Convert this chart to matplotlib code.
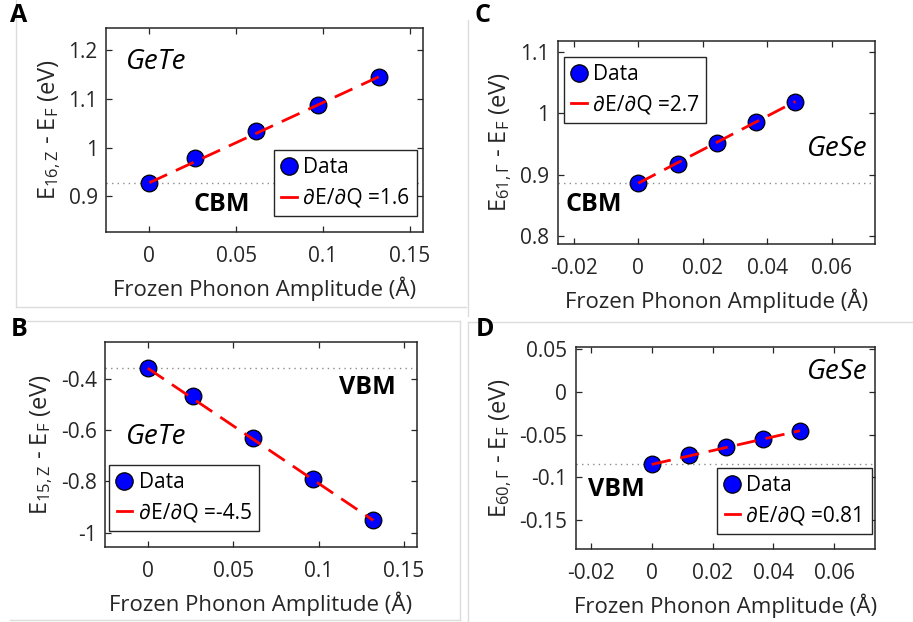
import matplotlib
matplotlib.use("Agg")
import matplotlib.pyplot as plt
from matplotlib.lines import Line2D

plt.rcParams["font.family"] = ["Open Sans", "DejaVu Sans"]
plt.rcParams["mathtext.default"] = "regular"

# GeTe (panels A, B)
gete_q = [0.0, 0.0265, 0.0615, 0.097, 0.132]
gete_cbm = [0.928, 0.978, 1.033, 1.087, 1.145]
gete_vbm = [-0.358, -0.466, -0.629, -0.792, -0.952]

# GeSe (panels C, D)
gese_q = [0.0, 0.0122, 0.0245, 0.0365, 0.0487]
gese_cbm = [0.886, 0.918, 0.951, 0.985, 1.019]
gese_vbm = [-0.0847, -0.0741, -0.0648, -0.0550, -0.0453]

slopes = {"A": 1.6, "B": -4.5, "C": 2.7, "D": 0.81}

W, H = 913, 622
fig = plt.figure(figsize=(W / 100, H / 100), dpi=100)

DARK = "#262626"


def px_axes(x0, y0, x1, y1):
    return fig.add_axes([x0 / W, (H - y1) / H, (x1 - x0) / W, (y1 - y0) / H])


def style(ax, xlim, ylim, xticks, yticks, xtl, ytl, ylabel):
    ax.set_xlim(*xlim)
    ax.set_ylim(*ylim)
    ax.set_xticks(xticks)
    ax.set_xticklabels(xtl)
    ax.set_yticks(yticks)
    ax.set_yticklabels(ytl)
    ax.tick_params(direction="in", top=True, right=True, length=4, width=0.9,
                   colors=DARK, labelsize=15)
    ax.tick_params(axis="x", pad=10)
    ax.tick_params(axis="y", pad=6)
    for s in ax.spines.values():
        s.set_color(DARK)
        s.set_linewidth(1.1)
    ax.set_xlabel("Frozen Phonon Amplitude (Å)", fontsize=16, color=DARK, labelpad=7)
    ax.set_ylabel(ylabel, fontsize=17, color=DARK, labelpad=4)


def draw(ax, q, e, slope, legend_kw):
    ax.axhline(e[0], color="#8c8c8c", linestyle=(0, (1, 3)), linewidth=1.0, zorder=1)
    ax.plot(q, e, "o", color="#0000ff", markeredgecolor="black", markeredgewidth=0.9,
            markersize=12, zorder=3)
    ax.plot([q[0], q[-1]], [e[0], e[-1]], color="#ff0000", linewidth=2.0,
            dashes=(7, 3.5), zorder=4)
    handles = [
        Line2D([], [], marker="o", linestyle="none", color="#0000ff",
               markeredgecolor="black", markersize=12.5, markeredgewidth=0.9),
        Line2D([], [], color="#ff0000", linewidth=2.0),
    ]
    labels = ["Data", f"∂E/∂Q ={slope:g}"]
    leg = ax.legend(handles, labels, fontsize=15, handlelength=0.75, handletextpad=0.3,
                    borderpad=0.35, labelspacing=0.45, borderaxespad=0, fancybox=False,
                    framealpha=1, edgecolor=DARK, **legend_kw)
    leg.get_frame().set_linewidth(1.0)


# Panel A
axA = px_axes(106, 28, 423, 232)
style(axA, (-0.025, 0.1575), (0.827, 1.245), [0, 0.05, 0.1, 0.15], [0.9, 1.0, 1.1, 1.2],
      ["0", "0.05", "0.1", "0.15"], ["0.9", "1", "1.1", "1.2"], r"E$_{16,Z}$ - E$_F$ (eV)")
draw(axA, gete_q, gete_cbm, slopes["A"],
     dict(loc="lower right", bbox_to_anchor=(0.98, 0.078)))
axA.text(0.063, 0.835, "GeTe", transform=axA.transAxes, fontsize=20, style="italic",
         va="center", ha="left")
axA.text(0.275, 0.136, "CBM", transform=axA.transAxes, fontsize=18, weight="bold",
         va="center", ha="left")

# Panel B
axB = px_axes(105, 342.3, 416.7, 546.7)
style(axB, (-0.025, 0.1574), (-1.055, -0.257), [0, 0.05, 0.1, 0.15],
      [-1.0, -0.8, -0.6, -0.4], ["0", "0.05", "0.1", "0.15"],
      ["-1", "-0.8", "-0.6", "-0.4"], r"E$_{15,Z}$ - E$_F$ (eV)")
draw(axB, gete_q, gete_vbm, slopes["B"],
     dict(loc="lower left", bbox_to_anchor=(0.014, 0.078)))
axB.text(0.934, 0.78, "VBM", transform=axB.transAxes, fontsize=18, weight="bold",
         va="center", ha="right")
axB.text(0.067, 0.538, "GeTe", transform=axB.transAxes, fontsize=20, style="italic",
         va="center", ha="left")

# Panel C
axC = px_axes(557.7, 40.7, 875, 244.3)
style(axC, (-0.025, 0.0734), (0.7865, 1.118), [-0.02, 0, 0.02, 0.04, 0.06],
      [0.8, 0.9, 1.0, 1.1], ["-0.02", "0", "0.02", "0.04", "0.06"],
      ["0.8", "0.9", "1", "1.1"], r"E$_{61,Γ}$ - E$_F$ (eV)")
draw(axC, gese_q, gese_cbm, slopes["C"],
     dict(loc="upper left", bbox_to_anchor=(0.019, 0.921)))
axC.text(0.977, 0.468, "GeSe", transform=axC.transAxes, fontsize=20, style="italic",
         va="center", ha="right")
axC.text(0.026, 0.196, "CBM", transform=axC.transAxes, fontsize=18, weight="bold",
         va="center", ha="left")

# Panel D
axD = px_axes(575.7, 346.7, 875, 549.3)
style(axD, (-0.025, 0.0734), (-0.184, 0.053), [-0.02, 0, 0.02, 0.04, 0.06],
      [-0.15, -0.1, -0.05, 0, 0.05], ["-0.02", "0", "0.02", "0.04", "0.06"],
      ["-0.15", "-0.1", "-0.05", "0", "0.05"], r"E$_{60,Γ}$ - E$_F$ (eV)")
draw(axD, gese_q, gese_vbm, slopes["D"],
     dict(loc="lower right", bbox_to_anchor=(0.989, 0.0755)))
axD.text(0.976, 0.877, "GeSe", transform=axD.transAxes, fontsize=20, style="italic",
         va="center", ha="right")
axD.text(0.04, 0.293, "VBM", transform=axD.transAxes, fontsize=18, weight="bold",
         va="center", ha="left")

# panel letters
for letter, (x, y) in {"A": (10, 15), "B": (11, 330), "C": (475, 16), "D": (476, 330)}.items():
    fig.text(x / W, 1 - y / H, letter, fontsize=18, weight="bold", va="center", ha="left")

# faint panel frames from the original composite
frame = "#dcdcdc"
for (x0, y0, x1, y1) in [(16, 0, 16, 307), (16, 307, 466, 307), (468, 20, 468, 316),
                         (25, 320.5, 460, 320.5), (460, 320.5, 460, 620),
                         (10, 620, 460, 620), (468, 322, 913, 322), (468, 322, 468, 622)]:
    fig.add_artist(Line2D([x0 / W, x1 / W], [1 - y0 / H, 1 - y1 / H], color=frame,
                          linewidth=1.0, transform=fig.transFigure))

fig.savefig("out.png", dpi=100)
